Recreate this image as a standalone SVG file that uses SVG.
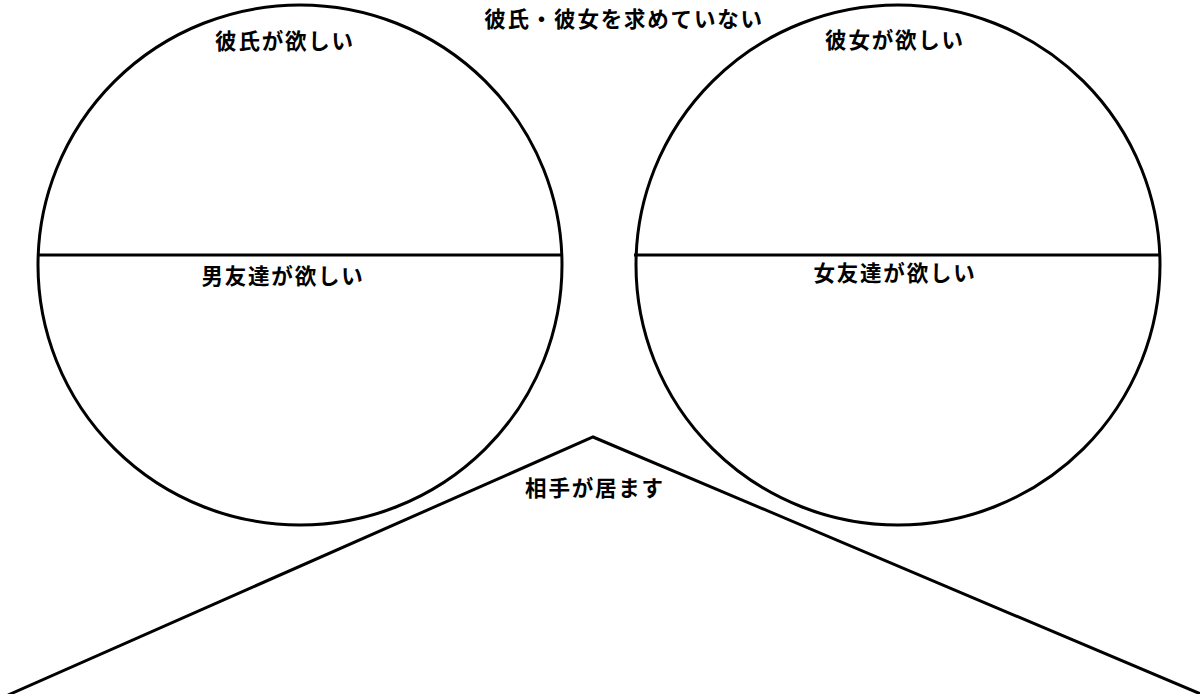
<svg xmlns="http://www.w3.org/2000/svg" width="1200" height="694" viewBox="0 0 1200 694">
<style>
.s{fill:none;stroke:#000;stroke-width:3}
.t{font-family:"Noto Sans CJK JP","Noto Sans CJK SC",sans-serif;font-weight:bold;font-size:21.5px;letter-spacing:1.8px;fill:#000;text-anchor:middle}
</style>
<rect width="1200" height="694" fill="#fff"/>
<g id="left-circle">
<ellipse class="s" cx="300" cy="265" rx="262" ry="260"/>
<line class="s" x1="38" y1="255" x2="562" y2="255"/>
<text class="t" x="285" y="49">彼氏が欲しい</text>
<text class="t" x="283" y="284">男友達が欲しい</text>
</g>
<g id="right-circle">
<ellipse class="s" cx="898" cy="265" rx="262" ry="260"/>
<line class="s" x1="634" y1="255" x2="1160" y2="255"/>
<text class="t" x="895" y="48">彼女が欲しい</text>
<text class="t" x="895" y="281">女友達が欲しい</text>
</g>
<g id="title">
<text class="t" x="624" y="27">彼氏・彼女を求めていない</text>
</g>
<g id="partner">
<polyline class="s" points="8,695 593,437 1203,695" stroke-linejoin="miter"/>
<text class="t" x="595" y="496">相手が居ます</text>
</g>
</svg>
